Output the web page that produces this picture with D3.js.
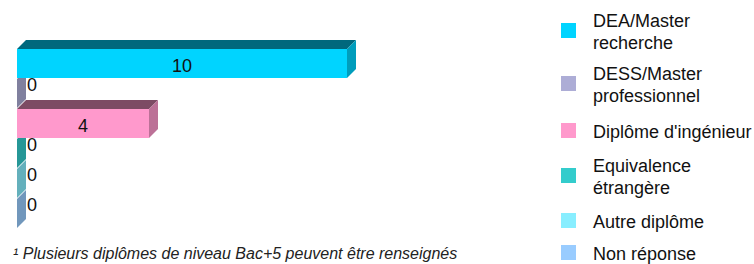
<!DOCTYPE html>
<html lang="fr">
<head>
<meta charset="utf-8">
<title>Diplômes Bac+5</title>
<style>
  body { margin: 0; background: #fff; }
  svg { display: block; font-family: "Liberation Sans", Arial, sans-serif; }
</style>
<script src="https://d3js.org/d3.v7.min.js"></script>
</head>
<body>
<svg id="chart" width="754" height="264"></svg>
<script>
// data
var categories = ["DEA/Master recherche", "DESS/Master professionnel", "Diplôme d'ingénieur",
                  "Equivalence étrangère", "Autre diplôme", "Non réponse"];
var legendLines = [["DEA/Master", "recherche"], ["DESS/Master", "professionnel"], ["Diplôme d'ingénieur"],
                   ["Equivalence", "étrangère"], ["Autre diplôme"], ["Non réponse"]];
var values = [10, 0, 4, 0, 0, 0];
var colors = ["#00d4ff", "#adadd6", "#ff99cc", "#33cccc", "#88eeff", "#99ccff"];
var footnote = "\u00b9 Plusieurs diplômes de niveau Bac+5 peuvent être renseignés";

var svg = d3.select("#chart");
var depth = 9;

var x = d3.scaleLinear().domain([0, 10]).range([17, 347]);
var y = d3.scaleBand().domain(categories).range([49, 229]).padding(0);
var bh = y.bandwidth() - 1;

var rows = categories.map(function(c, i) { return {cat: c, v: values[i], col: colors[i]}; });

// draw bottom first so upper bars hide the side of the lower ones
var g = svg.append("g");
rows.slice().reverse().forEach(function(d) {
  var x0 = x(0), x1 = x(d.v), y0 = y(d.cat), y1 = y0 + bh;
  var c = d3.color(d.col);
  // top face
  g.append("path")
    .attr("d", "M" + x0 + "," + y0 + "L" + (x0 + depth) + "," + (y0 - depth) +
               "L" + (x1 + depth) + "," + (y0 - depth) + "L" + x1 + "," + y0 + "Z")
    .attr("fill", c.darker(2).formatHex());
  // side face
  g.append("path")
    .attr("d", "M" + x1 + "," + y0 + "L" + (x1 + depth) + "," + (y0 - depth) +
               "L" + (x1 + depth) + "," + (y1 - depth) + "L" + x1 + "," + y1 + "Z")
    .attr("fill", c.darker(0.85).formatHex());
  // front face
  if (d.v > 0) {
    g.append("rect")
      .attr("x", x0).attr("y", y0)
      .attr("width", x1 - x0).attr("height", bh)
      .attr("fill", d.col);
  }
});

// value labels
svg.append("g").selectAll("text").data(rows).join("text")
  .attr("x", function(d) { return d.v > 0 ? (x(0) + x(d.v)) / 2 : x(0) + 10; })
  .attr("y", function(d) { return d.v > 0 ? y(d.cat) + bh / 2 + 4 : y(d.cat) + 7; })
  .attr("text-anchor", function(d) { return d.v > 0 ? "middle" : "start"; })
  .attr("dominant-baseline", "middle")
  .attr("font-size", 18)
  .attr("fill", "#111")
  .text(function(d) { return d.v; });

// legend
var legY = [30, 83, 130, 175, 220, 252];
var leg = svg.append("g").selectAll("g").data(rows).join("g")
  .attr("transform", function(d, i) { return "translate(560," + legY[i] + ")"; });
leg.append("rect")
  .attr("x", 1).attr("y", -7).attr("width", 15).attr("height", 15)
  .attr("fill", function(d) { return d.col; });
leg.append("text")
  .attr("x", 33)
  .attr("font-size", 18)
  .attr("fill", "#111")
  .selectAll("tspan")
  .data(function(d, i) { return legendLines[i]; })
  .join("tspan")
  .attr("x", 33)
  .attr("y", function(t, j, arr) { return 3 + (j - (arr.length - 1) / 2) * 22; })
  .attr("dominant-baseline", "middle")
  .text(function(t) { return t; });

// footnote
svg.append("text")
  .attr("x", 13).attr("y", 255)
  .attr("dominant-baseline", "middle")
  .attr("font-size", 16)
  .attr("font-style", "italic")
  .attr("fill", "#222")
  .text(footnote);
</script>
</body>
</html>
